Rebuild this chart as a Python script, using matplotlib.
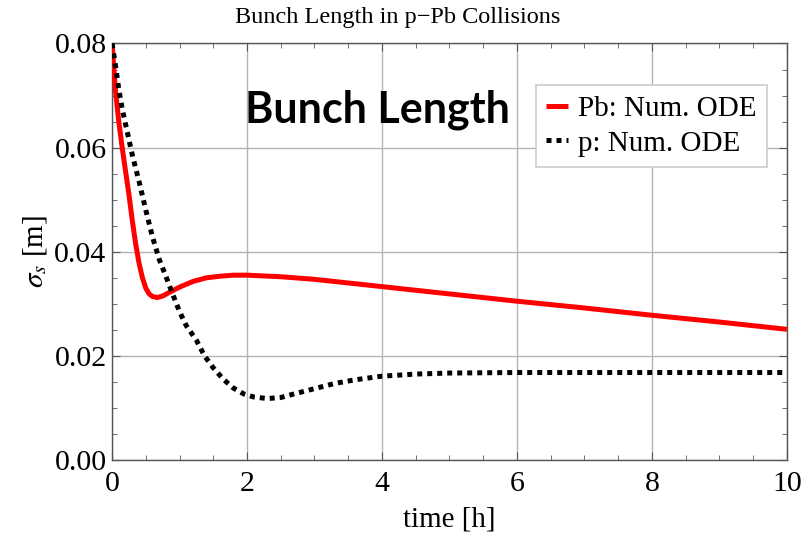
import numpy as np
import matplotlib
matplotlib.use("Agg")
import matplotlib.pyplot as plt
from matplotlib.ticker import MultipleLocator

plt.rcParams['font.family'] = ['Liberation Serif', 'DejaVu Serif']
plt.rcParams['mathtext.fontset'] = 'stix'

# Pb bunch length (numerical ODE solution)
t_pb = [0.0, 0.05, 0.10, 0.15, 0.20, 0.25, 0.30, 0.35, 0.40, 0.45, 0.50, 0.55,
        0.60, 0.67, 0.75, 0.85, 1.0, 1.2, 1.4, 1.6, 1.8, 2.0, 2.5, 3.0, 3.5,
        4.0, 5.0, 6.0, 7.0, 8.0, 9.0, 10.0]
s_pb = [0.080, 0.071, 0.065, 0.060, 0.0555, 0.051, 0.046, 0.0415, 0.0378, 0.035,
        0.033, 0.0319, 0.0314, 0.0312, 0.0315, 0.0322, 0.0332, 0.0343, 0.0350,
        0.0353, 0.0355, 0.0355, 0.0352, 0.0347, 0.0340, 0.0333, 0.0319, 0.0305,
        0.0292, 0.0278, 0.0265, 0.0251]

# proton bunch length (numerical ODE solution)
t_p = [0.0, 0.05, 0.10, 0.15, 0.20, 0.30, 0.40, 0.50, 0.60, 0.70, 0.80, 0.90,
       1.0, 1.1, 1.25, 1.37, 1.5, 1.65, 1.8, 1.95, 2.1, 2.3, 2.5, 2.7, 3.0,
       3.3, 3.6, 4.0, 4.5, 5.0, 6.0, 8.0, 10.0]
s_p = [0.080, 0.0758, 0.0712, 0.0675, 0.0645, 0.0586, 0.0535, 0.0480, 0.0428,
       0.0385, 0.0352, 0.0318, 0.0285, 0.0258, 0.0230, 0.0200, 0.0177, 0.0155,
       0.0138, 0.0127, 0.0121, 0.0118, 0.0120, 0.0127, 0.0137, 0.0147, 0.0154,
       0.0161, 0.0165, 0.0167, 0.0168, 0.0168, 0.0168]

xticks = [0, 2, 4, 6, 8, 10]
yticks = [0.00, 0.02, 0.04, 0.06, 0.08]
ytick_labels = ['0.00', '0.02', '0.04', '0.06', '0.08']

fig = plt.figure(figsize=(8.12, 5.39), dpi=100)
ax = fig.add_axes([0.138, 0.1466, 0.831, 0.7727])

ax.plot(t_pb, s_pb, color='red', lw=3.6, solid_capstyle='butt',
        label='Pb: Num. ODE', zorder=3)
ax.plot(t_p, s_p, color='black', lw=3.6, linestyle=(0, (1, 1)),
        label='p: Num. ODE', zorder=4)

ax.set_xlim(0, 10)
ax.set_ylim(0, 0.08)
ax.set_xticks(xticks)
ax.set_xticklabels([str(v) for v in xticks])
ax.set_yticks(yticks)
ax.set_yticklabels(ytick_labels)
ax.xaxis.set_minor_locator(MultipleLocator(0.5))
ax.yaxis.set_minor_locator(MultipleLocator(0.005))
ax.grid(True, which='major', color='#b4b4b4', lw=1.0, zorder=0)

for sp in ax.spines.values():
    sp.set_color('#555555')
    sp.set_linewidth(1.0)
ax.tick_params(which='both', direction='in', top=True, right=True,
               color='#555555', labelsize=21.5)
ax.tick_params(axis='x', pad=8)
ax.tick_params(axis='y', pad=4)
ax.tick_params(which='major', length=6)
ax.tick_params(which='minor', length=3.5)

ax.set_xlabel('time [h]', fontsize=21, labelpad=7)
ax.set_ylabel(r'$\sigma_s$ [m]', fontsize=21, labelpad=4)

fig.text(398 / 812, 1 - 18 / 539, 'Bunch Length in p\u2212Pb Collisions',
         ha='center', va='center', fontsize=17.5)

ax.text(3.94, 0.0672, 'Bunch Length', family=['Lato', 'DejaVu Sans'],
        fontweight='bold', fontsize=31, ha='center', va='center', zorder=5)

leg = ax.legend(loc='upper left', bbox_to_anchor=(0.628, 0.9), fontsize=21,
                handlelength=0.75, handletextpad=0.35, borderpad=0.36,
                labelspacing=0.28, fancybox=False, framealpha=1,
                edgecolor='#cccccc', borderaxespad=0)
leg.get_frame().set_linewidth(1.2)

fig.savefig('out.png', dpi=100)
